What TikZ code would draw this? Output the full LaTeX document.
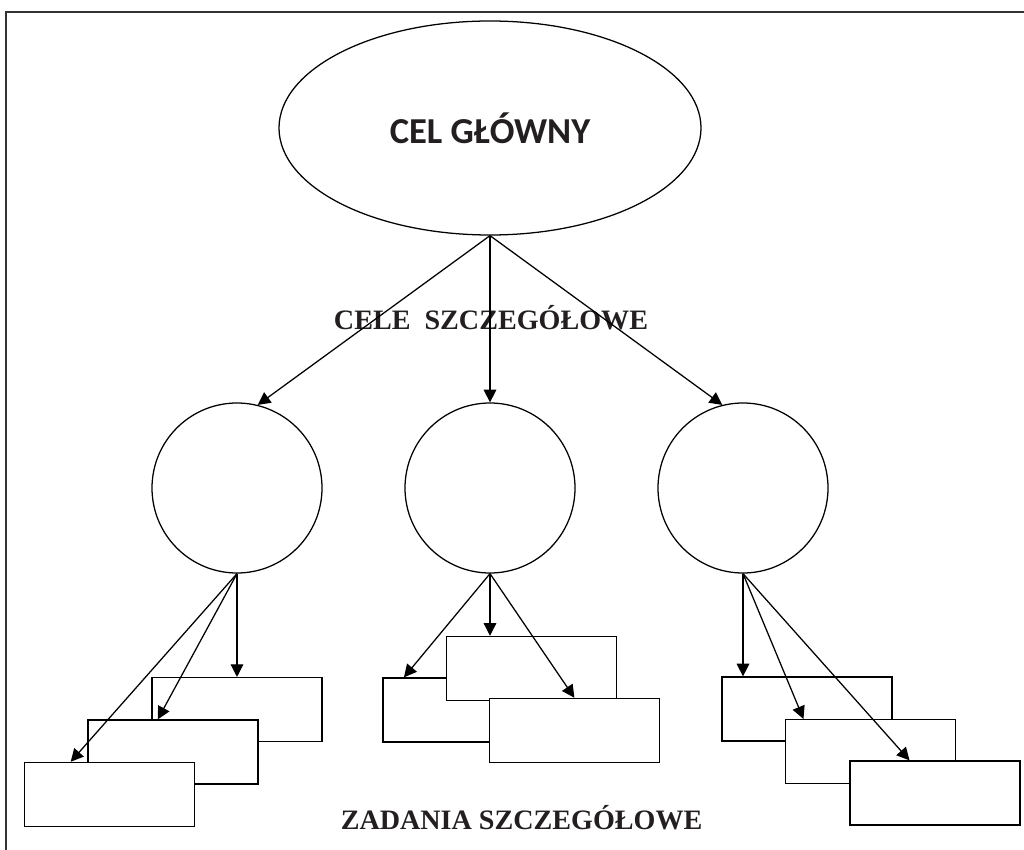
\documentclass[tikz,border=0pt]{standalone}
\usepackage{fontspec}
\setmainfont{Liberation Serif}
\newfontfamily\calibrifont{Carlito}
\usetikzlibrary{arrows.meta,shapes.geometric}
\definecolor{inkdark}{RGB}{35,31,32}
\tikzset{
  goal/.style={ellipse, draw, line width=0.9pt, minimum width=10.55cm, minimum height=5.35cm, inner sep=0pt, font=\calibrifont\bfseries\fontsize{26}{31}\selectfont, text=inkdark},
  sgoal/.style={circle, draw, line width=0.9pt, minimum size=4.25cm, inner sep=0pt},
  task/.style={rectangle, draw, line width=0.9pt, fill=white, minimum width=4.25cm, minimum height=1.6cm, inner sep=0pt},
  arr/.style={-{Triangle[length=9pt, width=9pt]}, line width=0.9pt},
  lbl/.style={anchor=base, font=\bfseries\fontsize{20}{24}\selectfont, text=inkdark},
}

\begin{document}
\begin{tikzpicture}
  \useasboundingbox (0,0) rectangle (25.6,-21.25);

  % frame (top and left edges only)
  \draw[line width=1.4pt, black!80] (0.15,-21.4) -- (0.15,-0.3) -- (25.8,-0.3);

  \node[goal] (main) at (12.25,-3.2) {CEL GŁÓWNY};
  \node[lbl] (celeLbl) at (12.275,-8.225) {CELE\ \ SZCZEGÓŁOWE};

  \node[sgoal] (c1) at (5.925,-12.2) {};
  \node[sgoal] (c2) at (12.25,-12.2) {};
  \node[sgoal] (c3) at (18.575,-12.2) {};

  \draw[arr] (main.south) -- (c1.76);
  \draw[arr] (main.south) -- (c2.north);
  \draw[arr] (main.south) -- (c3.104);

  % left group
  \node[task] (t1a) at (5.925,-17.74) {};
  \node[task] (t1b) at (4.325,-18.8) {};
  \node[task] (t1c) at (2.74,-19.86) {};
  \draw[arr] (c1.south) -- (t1a.north);
  \draw[arr] (c1.south) -- (t1b.115);
  \draw[arr] (c1.south) -- (t1c.140);

  % middle group
  \node[task] (t2l) at (11.7,-17.75) {};
  \node[task] (t2t) at (13.29,-16.71) {};
  \node[task] (t2r) at (14.36,-18.26) {};
  \draw[arr] (c2.south) -- (t2l.153);
  \draw[arr] (c2.south) -- (c2.south |- t2t.north);
  \draw[arr] (c2.south) -- (t2r.north);

  % right group
  \node[task] (t3a) at (20.175,-17.725) {};
  \node[task] (t3b) at (21.76,-18.79) {};
  \node[task] (t3c) at (23.375,-19.825) {};
  \draw[arr] (c3.south) -- (c3.south |- t3a.north);
  \draw[arr] (c3.south) -- (t3b.154);
  \draw[arr] (c3.south) -- (t3c.128);

  \node[lbl] (zadLbl) at (13.04,-20.725) {ZADANIA SZCZEGÓŁOWE};
\end{tikzpicture}
\end{document}
